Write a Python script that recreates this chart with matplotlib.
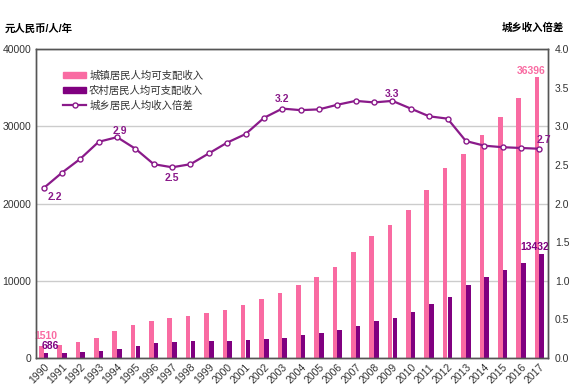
import matplotlib
matplotlib.use("Agg")
import matplotlib.pyplot as plt
from matplotlib.patches import Patch
from matplotlib.lines import Line2D

plt.rcParams['font.family'] = ['Liberation Sans', 'Noto Sans CJK SC', 'DejaVu Sans']

# 数据
years = [str(y) for y in range(1990, 2018)]
urban = [1510, 1701, 2027, 2577, 3496, 4283, 4839, 5160, 5425, 5854, 6280, 6860, 7703, 8472,
         9422, 10493, 11759, 13786, 15781, 17175, 19109, 21810, 24565, 26467, 28844, 31195, 33616, 36396]
rural = [686, 709, 784, 922, 1221, 1578, 1926, 2090, 2162, 2210, 2253, 2366, 2476, 2622,
         2936, 3255, 3587, 4140, 4761, 5153, 5919, 6977, 7917, 9430, 10489, 11422, 12363, 13432]
ratio = [2.20, 2.40, 2.58, 2.80, 2.86, 2.71, 2.51, 2.47, 2.51, 2.65, 2.79, 2.90, 3.11, 3.23,
         3.21, 3.22, 3.28, 3.33, 3.31, 3.33, 3.23, 3.13, 3.10, 2.81, 2.75, 2.73, 2.72, 2.71]
series_names = ['城镇居民人均可支配收入', '农村居民人均可支配收入', '城乡居民人均收入倍差']

pink = '#F96BA2'
purple = '#800080'
line_c = '#8A1A8A'
txt_c = '#333333'

fig = plt.figure(figsize=(5.7, 3.9), dpi=100)
ax = fig.add_axes([0.063, 0.082, 0.898, 0.792])
x = list(range(len(years)))
w = 0.25
ax.bar([i - 0.13 for i in x], urban, width=w, color=pink, zorder=2)
ax.bar([i + 0.13 for i in x], rural, width=w, color=purple, zorder=2)
ax.set_ylim(0, 40000)
ax.set_xlim(-0.42, 27.46)
ax.set_yticks([0, 10000, 20000, 30000, 40000])
ax.set_yticklabels(['0', '10000', '20000', '30000', '40000'])
ax.yaxis.grid(True, color='#cccccc', linewidth=1, zorder=0)
ax.set_axisbelow(True)
ax.set_xticks(x)
ax.set_xticklabels(years, rotation=45, ha='right', va='top', rotation_mode='anchor')
ax.tick_params(axis='both', length=0, labelsize=7.5, colors=txt_c)
ax.tick_params(axis='x', pad=3)
for s in ax.spines.values():
    s.set_color('#555555')
    s.set_linewidth(1)

# 柱子标签
ax.annotate(str(urban[0]), (-0.13, urban[0]), xytext=(3, 4), textcoords='offset points',
            ha='center', va='bottom', color=pink, fontsize=7.5, fontweight='bold')
ax.annotate(str(rural[0]), (0.13, rural[0]), xytext=(3, 1), textcoords='offset points',
            ha='center', va='bottom', color=purple, fontsize=7.5, fontweight='bold')
ax.annotate(str(urban[-1]), (27 - 0.13, urban[-1]), xytext=(-4, 1), textcoords='offset points',
            ha='center', va='bottom', color=pink, fontsize=7.5, fontweight='bold')
ax.annotate(str(rural[-1]), (27 + 0.13, rural[-1]), xytext=(-5, 2), textcoords='offset points',
            ha='center', va='bottom', color=purple, fontsize=7.5, fontweight='bold')

# 次坐标轴：倍差
ax2 = ax.twinx()
ax2.plot(x, ratio, color=line_c, linewidth=1.6, marker='o', markersize=3.6,
         markerfacecolor='white', markeredgecolor=line_c, markeredgewidth=1, zorder=3)
ax2.set_ylim(0, 4)
ax2.set_yticks([0, 0.5, 1, 1.5, 2, 2.5, 3, 3.5, 4])
ax2.set_yticklabels(['0.0', '0.5', '1.0', '1.5', '2.0', '2.5', '3.0', '3.5', '4.0'])
ax2.tick_params(axis='y', length=0, labelsize=7.5, colors=txt_c, pad=5)
for s in ax2.spines.values():
    s.set_color('#555555')
    s.set_linewidth(1)

line_labels = [(0, (8, -2.5)), (4, (2, 1)), (7, (0, -4)), (13, (0, 3)), (19, (0, 1)), (27, (3, 3))]
for i, off in line_labels:
    ax2.annotate('%.1f' % ratio[i], (x[i], ratio[i]), xytext=off, textcoords='offset points',
                 ha='center', va='bottom' if off[1] > 0 else 'top', color=line_c,
                 fontsize=7.5, fontweight='bold')

# 图例
handles = [Patch(color=pink), Patch(color=purple),
           Line2D([], [], color=line_c, linewidth=1.6, marker='o', markersize=3.6,
                  markerfacecolor='white', markeredgecolor=line_c)]
leg = ax2.legend(handles, series_names, loc='upper left', bbox_to_anchor=(0.045, 0.945),
                 frameon=False, fontsize=7.5, handlelength=2.2, handleheight=0.45,
                 handletextpad=0.3, labelspacing=0.45, borderaxespad=0)
for t in leg.get_texts():
    t.set_color(txt_c)

fig.text(0.009, 0.928, '元人民币/人/年', fontsize=7.5, fontweight='bold', va='center', ha='left')
fig.text(0.99, 0.928, '城乡收入倍差', fontsize=7.5, fontweight='bold', va='center', ha='right')

fig.savefig('out.png', dpi=100)
